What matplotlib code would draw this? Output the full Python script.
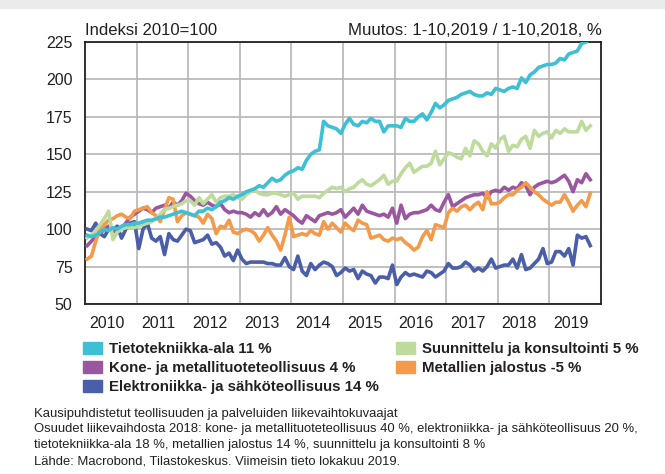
import numpy as np
import matplotlib.pyplot as plt
from matplotlib.patches import Patch, Rectangle

plt.rcParams['font.family'] = ['Liberation Sans', 'DejaVu Sans']

# Monthly index values, 1/2010 - 10/2019 (2010 = 100)
tieto = [96, 95, 96, 98, 100, 99, 101, 100, 102, 103, 103, 104,
         104, 105, 106, 106, 107, 108, 108, 109, 110, 111, 112, 111,
         110, 109, 112, 112, 114, 113, 115, 118, 119, 121, 120, 122,
         123, 125, 126, 127, 129, 128, 131, 134, 132, 133, 136, 138,
         139, 141, 140, 146, 150, 152, 153, 172, 169, 168, 167, 164,
         170, 174, 170, 169, 172, 171, 174, 172, 172, 165, 169, 169,
         169, 168, 174, 172, 172, 175, 177, 173, 178, 184, 181, 183,
         186, 187, 188, 190, 191, 192, 190, 189, 189, 191, 190, 194,
         193, 192, 194, 195, 194, 201, 198, 203, 205, 208, 209, 210,
         210, 211, 214, 213, 217, 218, 219, 224, 225, 227]

suunn = [94, 96, 99, 103, 107, 112, 93, 98, 100, 101, 101, 101,
         102, 103, 104, 105, 107, 110, 113, 114, 115, 116, 117, 119,
         119, 116, 121, 117, 120, 123, 118, 121, 122, 122, 123, 121,
         120, 123, 125, 126, 124, 123, 123, 124, 124, 123, 122, 123,
         124, 120, 122, 122, 122, 122, 121, 124, 126, 128, 127, 128,
         125, 127, 128, 131, 133, 130, 129, 131, 133, 136, 130, 132,
         132, 137, 141, 144, 138, 140, 142, 142, 144, 152, 143, 147,
         151, 150, 148, 147, 154, 149, 159, 157, 152, 149, 157, 154,
         160, 162, 152, 156, 155, 160, 162, 154, 166, 162, 164, 165,
         161, 166, 164, 167, 165, 165, 165, 172, 166, 169]

kone = [89, 92, 95, 97, 100, 102, 99, 98, 101, 104, 108, 110,
        112, 114, 113, 111, 114, 115, 116, 114, 118, 116, 119, 124,
        122, 119, 117, 116, 118, 116, 115, 117, 113, 111, 112, 111,
        111, 110, 108, 111, 109, 113, 109, 111, 115, 110, 113, 111,
        109, 106, 104, 109, 107, 105, 109, 110, 111, 110, 111, 113,
        108, 111, 114, 110, 116, 112, 111, 110, 109, 110, 108, 114,
        104, 116, 107, 110, 111, 111, 112, 113, 116, 113, 112, 118,
        123, 115, 117, 119, 121, 122, 123, 123, 124, 121, 125, 126,
        125, 128, 126, 128, 127, 131, 129, 123, 128, 130, 131, 132,
        131, 132, 134, 136, 132, 125, 133, 131, 137, 133]

metal = [80, 82, 92, 100, 103, 106, 107, 109, 110, 108, 107, 112,
         113, 114, 115, 111, 109, 105, 113, 121, 120, 105, 109, 111,
         110, 109, 108, 104, 110, 107, 97, 102, 101, 106, 98, 97,
         99, 100, 99, 97, 92, 96, 101, 96, 92, 86, 96, 108,
         95, 96, 97, 96, 99, 97, 96, 105, 100, 104, 101, 98,
         104, 101, 99, 106, 104, 103, 94, 95, 96, 93, 92, 94,
         93, 94, 91, 89, 86, 88, 95, 99, 93, 103, 102, 101,
         111, 114, 112, 115, 116, 113, 116, 118, 113, 125, 117, 117,
         118, 121, 123, 123, 126, 128, 131, 128, 125, 123, 120, 118,
         116, 118, 118, 123, 118, 112, 116, 119, 115, 124]

elektro = [100, 99, 104, 97, 95, 100, 99, 102, 94, 100, 104, 105,
           87, 100, 104, 94, 92, 95, 83, 97, 93, 92, 96, 100,
           99, 91, 92, 93, 96, 90, 91, 88, 82, 84, 79, 86,
           80, 77, 78, 78, 78, 78, 77, 77, 76, 76, 81, 75,
           73, 82, 72, 69, 77, 73, 76, 78, 77, 75, 69, 71,
           74, 72, 73, 67, 72, 70, 69, 64, 68, 68, 67, 76,
           63, 68, 71, 69, 70, 69, 68, 72, 71, 68, 70, 72,
           77, 74, 74, 75, 78, 76, 72, 74, 72, 75, 80, 74,
           75, 76, 76, 80, 74, 83, 73, 74, 77, 80, 87, 77,
           78, 85, 85, 82, 87, 76, 96, 94, 95, 89]

years = list(range(2010, 2020))
labels = ["Tietotekniikka-ala 11 %", "Kone- ja metallituoteteollisuus 4 %",
          "Elektroniikka- ja sähköteollisuus 14 %",
          "Suunnittelu ja konsultointi 5 %", "Metallien jalostus -5 %"]

c_tieto = '#3dbfd4'
c_kone = '#9b56a0'
c_elektro = '#4a5ea9'
c_suunn = '#bedb9d'
c_metal = '#f49a4a'
txt = '#231f20'

x = 2010 + np.arange(len(tieto)) / 12 + 1 / 24

fig = plt.figure(figsize=(6.65, 4.74), dpi=100)
fig.patches.append(Rectangle((0, 1 - 8 / 474), 1, 8 / 474, transform=fig.transFigure,
                             color='#ebebeb', zorder=0))
ax = fig.add_axes([85 / 665, 1 - 304 / 474, 516 / 665, 262 / 474])

lw = 2.6
ax.plot(x, elektro, color=c_elektro, lw=lw, zorder=3)
ax.plot(x, kone, color=c_kone, lw=lw, zorder=3)
ax.plot(x, metal, color=c_metal, lw=lw, zorder=4)
ax.plot(x, suunn, color=c_suunn, lw=lw, zorder=4)
ax.plot(x, tieto, color=c_tieto, lw=lw, zorder=5)

ax.set_xlim(2010, 2020)
ax.set_ylim(50, 225)
ax.set_yticks(np.arange(50, 226, 25))
ax.set_xticks(years[1:])
ax.set_xticklabels([])
ax.set_xticks([y + 0.42 for y in years], minor=True)
ax.set_xticklabels([str(y) for y in years], minor=True)
ax.tick_params(axis='both', which='both', length=0, labelsize=11.5, colors=txt)
ax.tick_params(axis='x', which='minor', pad=9)
ax.tick_params(axis='y', pad=9)
ax.grid(True, color='#b5b5b5', lw=1.2)
for s in ax.spines.values():
    s.set_color(txt)
    s.set_linewidth(1.3)

fig.text(85 / 665, 1 - 35 / 474, "Indeksi 2010=100", fontsize=12, color=txt,
         va='baseline', ha='left')
fig.text(602 / 665, 1 - 35 / 474, "Muutos: 1-10,2019 / 1-10,2018, %", fontsize=12.1,
         color=txt, va='baseline', ha='right')

handles = [Patch(color=c) for c in [c_tieto, c_kone, c_elektro, c_suunn, c_metal]]
fig.legend(handles, labels, ncol=2, loc='upper left', bbox_to_anchor=(83 / 665, 1 - 341.5 / 474),
           frameon=False, prop={'weight': 'bold', 'size': 10.8}, handlelength=1.27,
           handleheight=0.93, handletextpad=0.47, columnspacing=1.16, labelspacing=0.3,
           borderaxespad=0, borderpad=0, labelcolor=txt)

foot = ("Kausipuhdistetut teollisuuden ja palveluiden liikevaihtokuvaajat\n"
        "Osuudet liikevaihdosta 2018: kone- ja metallituoteteollisuus 40 %, "
        "elektroniikka- ja sähköteollisuus 20 %,\n"
        "tietotekniikka-ala 18 %, metallien jalostus 14 %, suunnittelu ja konsultointi 8 %\n"
        "Lähde: Macrobond, Tilastokeskus. Viimeisin tieto lokakuu 2019.")
fig.text(34 / 665, 1 - 407.5 / 474, foot, fontsize=9.4, color=txt, va='top', ha='left',
         linespacing=1.43)

fig.savefig('out.png', dpi=100)
